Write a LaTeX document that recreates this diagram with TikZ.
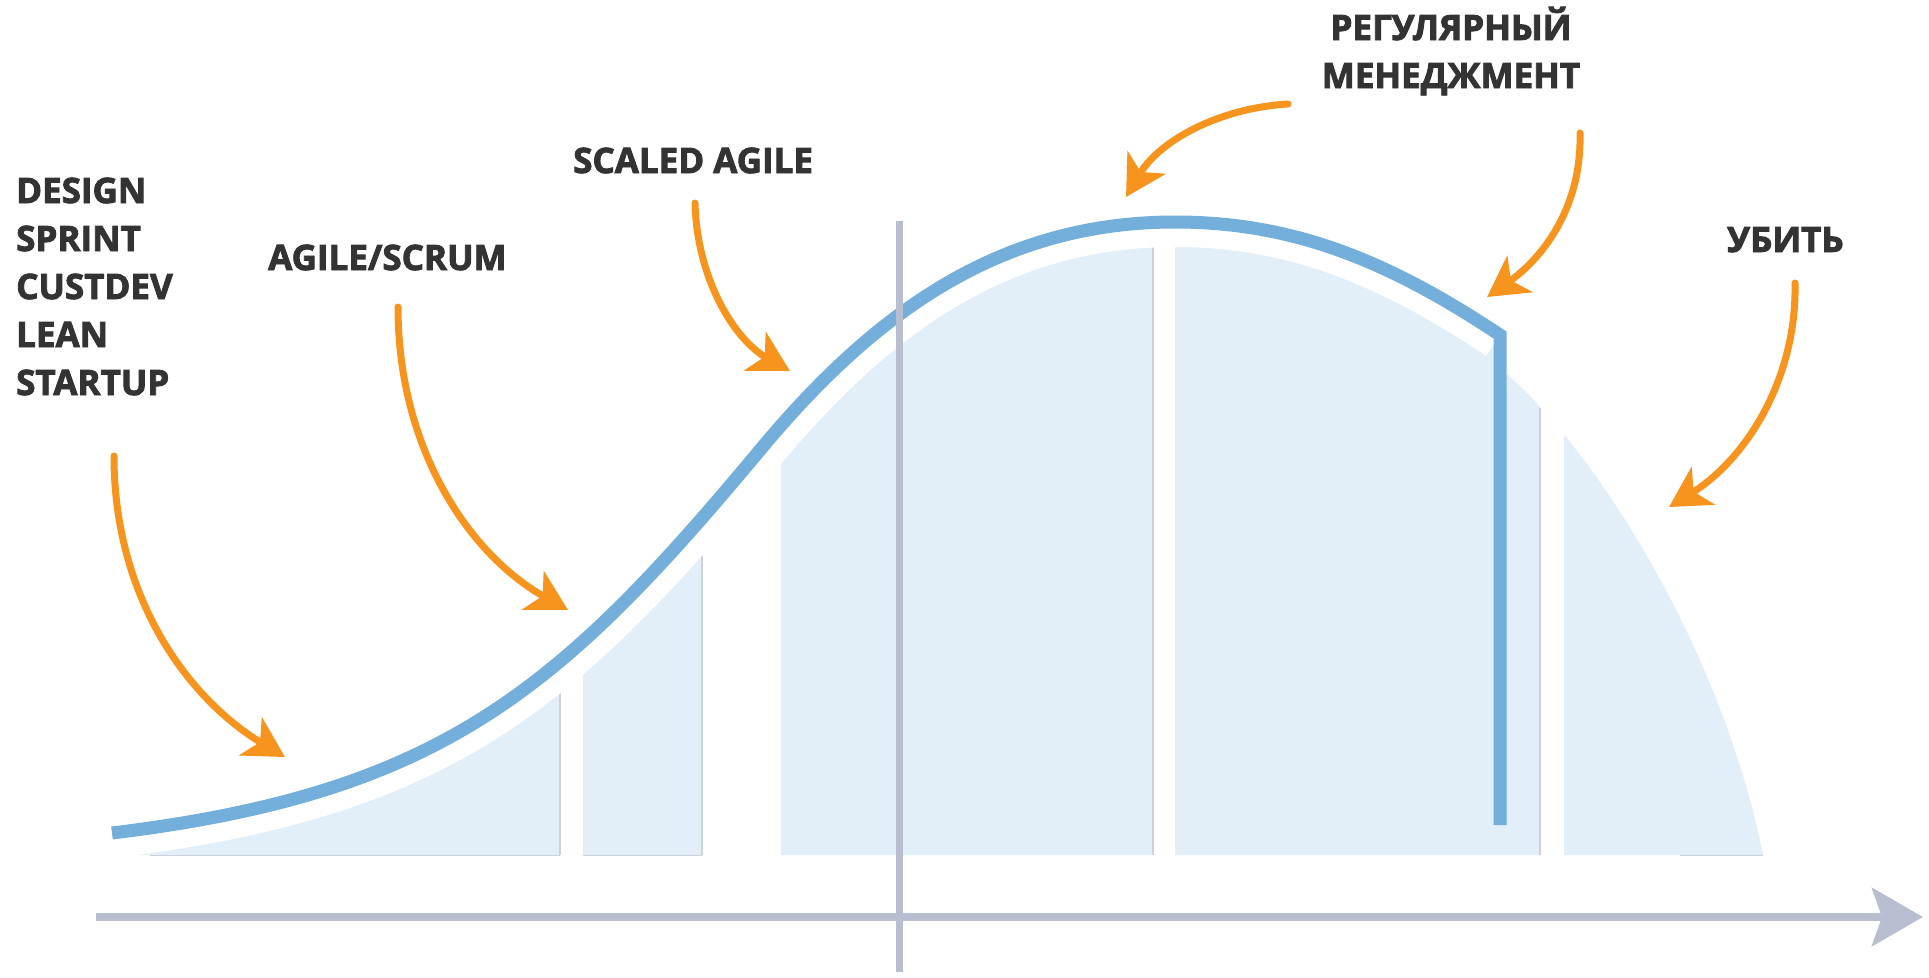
\documentclass[tikz,border=0pt]{standalone}
\usepackage{fontspec}
\setmainfont{Open Sans}
\newfontfamily\labelfont{Open Sans}[BoldFeatures={FakeBold=2.5}]
\usetikzlibrary{arrows.meta}
\definecolor{curveblue}{HTML}{74AFDC}
\definecolor{fillblue}{HTML}{E2EEF8}
\definecolor{axisgray}{HTML}{B8BDCF}
\definecolor{edgegray}{HTML}{CDD2DA}
\definecolor{arroworange}{HTML}{F7941D}
\definecolor{labeltext}{HTML}{333333}
\begin{document}
\begin{tikzpicture}[x=1pt,y=-1pt,
  lbl/.style={inner sep=0pt, text=labeltext, font=\labelfont\fontsize{35}{48}\selectfont\bfseries},
  pointer/.style={draw=arroworange, line width=7pt, line cap=round,
    -{Stealth[length=40pt,width=44pt,inset=11pt]}},
  blueline/.style={draw=curveblue, line width=13pt, line join=miter},
  halo/.style={draw=white, line width=50pt},
  gapstrip/.style={fill=white, draw=none},
  segedge/.style={draw=edgegray, line width=1.2pt},
  axisline/.style={draw=axisgray, line width=8pt,
    -{Stealth[length=51pt,width=58pt,inset=10pt]}},
  timeline/.style={draw=axisgray, line width=7pt}]
\useasboundingbox (0,0) rectangle (1929,977);

% filled area under the curve
\fill[fillblue] (139,855) -- (112,833)
  .. controls (442,793) and (560,690) .. (760,450)
  .. controls (870,318) and (995,222) .. (1175,222)
  .. controls (1295,222) and (1390,262) .. (1500,335)
  -- (1500,368)
  .. controls (1600,453) and (1723,655) .. (1763,855) -- cycle;

% gaps between the segments
\fill[gapstrip] (560,150) rectangle (583,862);
\fill[gapstrip] (702,150) rectangle (781,862);
\fill[gapstrip] (1153,150) rectangle (1175,862);
\fill[gapstrip] (1540,150) rectangle (1564,862);

% thin edges of the segments
\draw[segedge] (560,855) -- (560,650);
\draw[segedge] (702,855) -- (702,505);
\draw[segedge] (1153,855) -- (1153,218);
\draw[segedge] (1540,855) -- (1540,408);
\draw[segedge] (150,855.5) -- (560,855.5);
\draw[segedge] (583,855.5) -- (702,855.5);
\draw[segedge] (1680,855.5) -- (1763,855.5);

% white halo along the curve
\draw[halo] (112,833)
  .. controls (442,793) and (560,690) .. (760,450)
  .. controls (870,318) and (995,222) .. (1175,222)
  .. controls (1295,222) and (1390,262) .. (1500,335);

% blue curve
\draw[blueline] (112,833)
  .. controls (442,793) and (560,690) .. (760,450)
  .. controls (870,318) and (995,222) .. (1175,222)
  .. controls (1295,222) and (1390,262) .. (1500,335)
  -- (1500,825);

% vertical time line
\coordinate (vtop) at (899,221);
\coordinate (vbot) at (899,972);
\draw[timeline] (vtop) -- (vbot);

% horizontal axis
\coordinate (axs) at (96,917);
\coordinate (axe) at (1923,917);
\draw[axisline] (axs) -- (axe);

% labels
\node[lbl, anchor=base west] (design) at (16,203)
  {\begin{tabular}[t]{@{}l@{}}DESIGN\\SPRINT\\CUSTDEV\\LEAN\\STARTUP\end{tabular}};
\node[lbl, anchor=base west] (agile) at (268,270) {AGILE/SCRUM};
\node[lbl, anchor=base west] (scaled) at (573,173) {SCALED AGILE};
\node[lbl, anchor=base] (regular) at (1451,40)
  {\begin{tabular}[t]{@{}c@{}}РЕГУЛЯРНЫЙ\\МЕНЕДЖМЕНТ\end{tabular}};
\node[lbl, anchor=base west] (kill) at (1727,252) {УБИТЬ};

% orange arrows
\coordinate (a1s) at (114,456);  \coordinate (a1e) at (285,757);
\coordinate (a2s) at (398,307);  \coordinate (a2e) at (568,610);
\coordinate (a3s) at (695,203);  \coordinate (a3e) at (790,371);
\coordinate (a4s) at (1288,104); \coordinate (a4e) at (1126,197);
\coordinate (a5s) at (1580,133); \coordinate (a5e) at (1487,297);
\coordinate (a6s) at (1795,283); \coordinate (a6e) at (1669,507);
\draw[pointer] (a1s) .. controls (114,600) and (190,700) .. (a1e);
\draw[pointer] (a2s) .. controls (398,450) and (470,555) .. (a2e);
\draw[pointer] (a3s) .. controls (697,280) and (735,340) .. (a3e);
\draw[pointer] (a4s) .. controls (1220,108) and (1160,140) .. (a4e);
\draw[pointer] (a5s) .. controls (1582,210) and (1540,260) .. (a5e);
\draw[pointer] (a6s) .. controls (1797,380) and (1745,460) .. (a6e);
\end{tikzpicture}
\end{document}
